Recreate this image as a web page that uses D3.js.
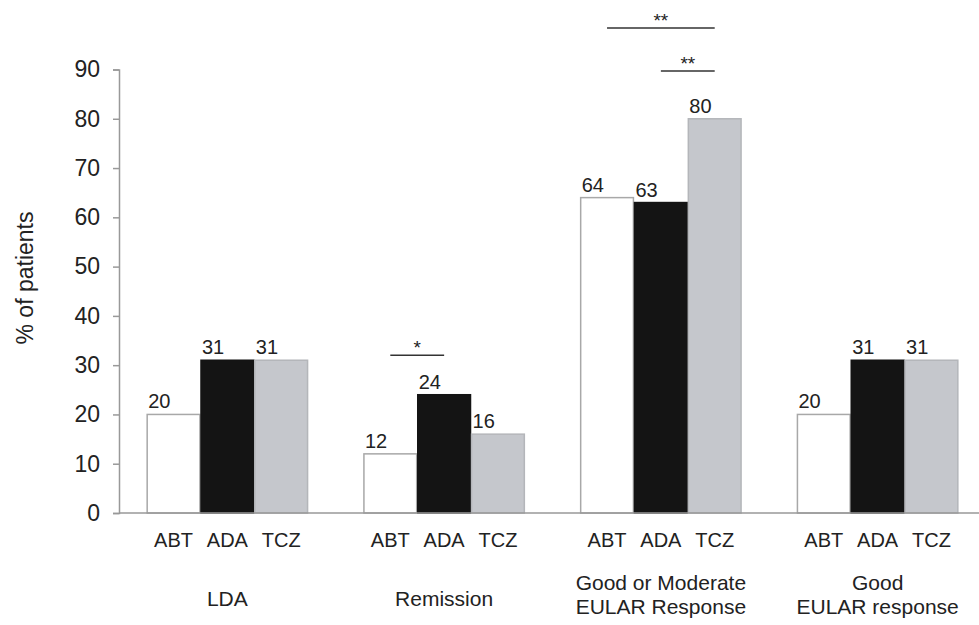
<!DOCTYPE html>
<html>
<head>
<meta charset="utf-8">
<script src="https://cdn.jsdelivr.net/npm/d3@7"></script>
<style>
  body { margin: 0; background: #fff; }
  text { font-family: "Liberation Sans", Arial, sans-serif; fill: #222; }
</style>
</head>
<body>
<svg id="chart"></svg>
<script>
// chart data
const groups = ['LDA', 'Remission', 'Good or Moderate\nEULAR Response', 'Good\nEULAR response']
const drugs = ['ABT', 'ADA', 'TCZ']
const abtValues = [20, 12, 64, 20]
const adaValues = [31, 24, 63, 31]
const tczValues = [31, 16, 80, 31]
const yTicks = [0, 10, 20, 30, 40, 50, 60, 70, 80, 90]
// significance brackets: group index, from drug, to drug, label, height (% units)
const sigGroup = [1, 2, 2]
const sigFrom = ['ABT', 'ABT', 'ADA']
const sigTo = ['ADA', 'TCZ', 'TCZ']
const sigLabel = ['*', '**', '**']
const sigLevel = [32, 98.4, 89.7]

const width = 979
const height = 625
const fills = { ABT: '#ffffff', ADA: '#141414', TCZ: '#c5c7cc' }
const strokes = { ABT: '#a8a8a8', ADA: '#141414', TCZ: '#b4b6ba' }

const chart = d3.select('#chart')
    .attr('width', width)
    .attr('height', height)

const x0 = d3.scaleBand().domain(d3.range(groups.length)).range([119, 986])
    .paddingInner(0.25).paddingOuter(0.125)
const x1 = d3.scaleBand().domain(drugs).range([0, x0.bandwidth()]).padding(0.02)
const y = d3.scaleLinear().domain([0, 90]).range([513, 69.5])

const series = { ABT: abtValues, ADA: adaValues, TCZ: tczValues }
const data = []
groups.forEach((g, i) => {
    drugs.forEach(d => data.push({ group: i, drug: d, value: series[d][i] }))
})

// y axis
const yAxis = d3.axisLeft(y).tickValues(yTicks).tickSize(6).tickPadding(13)
const axisY = chart.append('g')
    .attr('transform', 'translate(119,0)')
    .call(yAxis)
axisY.select('.domain').attr('stroke', '#999').attr('stroke-width', 1.5)
axisY.selectAll('.tick line').attr('stroke', '#999').attr('stroke-width', 1.5)
axisY.selectAll('.tick text')
    .style('font-family', '"Liberation Sans", Arial, sans-serif')
    .style('font-size', '23px').attr('fill', '#333')

chart.append('text')
    .attr('transform', 'translate(33,278) rotate(-90)')
    .attr('text-anchor', 'middle')
    .style('font-size', '23px')
    .text('% of patients')

// bars
chart.append('g').selectAll('rect')
    .data(data)
    .join('rect')
    .attr('x', d => x0(d.group) + x1(d.drug))
    .attr('y', d => y(d.value))
    .attr('width', x1.bandwidth())
    .attr('height', d => y(0) - y(d.value))
    .attr('fill', d => fills[d.drug])
    .attr('stroke', d => strokes[d.drug])
    .attr('stroke-width', 1.5)

// value labels
chart.append('g').selectAll('text')
    .data(data)
    .join('text')
    .attr('x', d => x0(d.group) + x1(d.drug) + 1)
    .attr('y', d => y(d.value) - 6)
    .style('font-size', '20px')
    .text(d => d.value)

// x axis baseline
chart.append('line')
    .attr('x1', 119).attr('x2', width)
    .attr('y1', y(0)).attr('y2', y(0))
    .attr('stroke', '#999').attr('stroke-width', 1.5)

// drug labels under each bar
chart.append('g').selectAll('text')
    .data(data)
    .join('text')
    .attr('x', d => x0(d.group) + x1(d.drug) + x1.bandwidth() / 2)
    .attr('y', 547)
    .attr('text-anchor', 'middle')
    .style('font-size', '20px')
    .text(d => d.drug)

// group labels
const groupText = chart.append('g').selectAll('text')
    .data(groups)
    .join('text')
    .attr('x', (d, i) => x0(i) + x0.bandwidth() / 2)
    .attr('y', d => d.includes('\n') ? 590 : 606)
    .attr('text-anchor', 'middle')
    .style('font-size', '21px')
groupText.selectAll('tspan')
    .data(d => d.split('\n'))
    .join('tspan')
    .attr('x', function () { return d3.select(this.parentNode).attr('x') })
    .attr('dy', (d, i) => i === 0 ? 0 : 24)
    .text(d => d)

// significance brackets
const sig = sigGroup.map((g, i) => ({
    x1: x0(g) + x1(sigFrom[i]) + x1.bandwidth() / 2,
    x2: x0(g) + x1(sigTo[i]) + x1.bandwidth() / 2,
    y: y(sigLevel[i]),
    label: sigLabel[i]
}))
chart.append('g').selectAll('line')
    .data(sig)
    .join('line')
    .attr('x1', d => d.x1).attr('x2', d => d.x2)
    .attr('y1', d => d.y).attr('y2', d => d.y)
    .attr('stroke', '#333').attr('stroke-width', 1.5)
chart.append('g').selectAll('text')
    .data(sig)
    .join('text')
    .attr('x', d => (d.x1 + d.x2) / 2)
    .attr('y', d => d.y - 1)
    .attr('text-anchor', 'middle')
    .style('font-size', '19px')
    .text(d => d.label)
</script>
</body>
</html>
